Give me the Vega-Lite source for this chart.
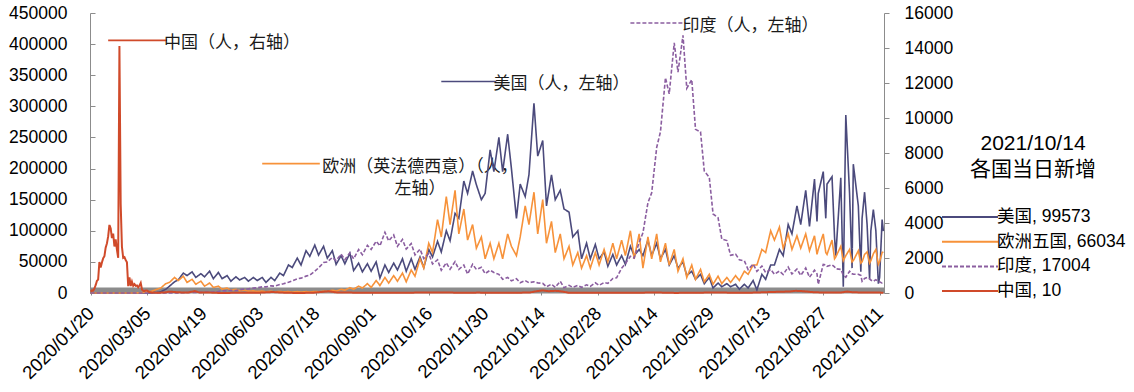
{
  "$schema": "https://vega.github.io/schema/vega-lite/v6.json",
  "width": 794,
  "height": 280,
  "autosize": {"type": "none"},
  "padding": {"left": 90, "top": 13, "right": 250, "bottom": 99},
  "background": "white",
  "config": {
    "view": {"stroke": null},
    "font": "Liberation Sans, Noto Sans CJK SC",
    "axis": {"grid": false, "labelColor": "#000", "domainColor": "#8c8c8c", "tickColor": "#8c8c8c", "labelFont": "Liberation Sans", "labelFontSize": 17.5, "title": null},
    "legend": {
      "orient": "none", "legendX": 851, "legendY": 120,
      "titleFontSize": 21, "titleFontWeight": "normal", "titleColor": "#000", "titleFont": "Liberation Sans, Noto Sans CJK SC",
      "titleAnchor": "middle", "titleAlign": "center", "titleLineHeight": 26, "titlePadding": 27, "titleLimit": 400,
      "labelFontSize": 17.5, "labelColor": "#000", "labelFont": "Liberation Sans, Noto Sans CJK SC", "labelLimit": 400,
      "symbolType": "stroke", "symbolSize": 3136, "symbolStrokeWidth": 2, "labelOffset": -2,
      "clipHeight": 20, "rowPadding": 4.7
    }
  },
  "datasets": {
    "wk": [
      {"d":"2020-01-20","美国":0,"欧洲五国":0,"印度":0},
      {"d":"2020-01-24","美国":1,"欧洲五国":0,"印度":0},
      {"d":"2020-01-27","美国":0,"欧洲五国":0,"印度":0},
      {"d":"2020-01-31","美国":1,"欧洲五国":3,"印度":1},
      {"d":"2020-02-03","美国":3,"欧洲五国":2,"印度":1},
      {"d":"2020-02-07","美国":0,"欧洲五国":2,"印度":0},
      {"d":"2020-02-10","美国":0,"欧洲五国":1,"印度":0},
      {"d":"2020-02-14","美国":1,"欧洲五国":2,"印度":0},
      {"d":"2020-02-17","美国":0,"欧洲五国":0,"印度":0},
      {"d":"2020-02-21","美国":1,"欧洲五国":20,"印度":0},
      {"d":"2020-02-24","美国":0,"欧洲五国":100,"印度":0},
      {"d":"2020-02-28","美国":1,"欧洲五国":300,"印度":0},
      {"d":"2020-03-02","美国":20,"欧洲五国":700,"印度":1},
      {"d":"2020-03-06","美国":60,"欧洲五国":1800,"印度":2},
      {"d":"2020-03-09","美国":300,"欧洲五国":3000,"印度":20},
      {"d":"2020-03-13","美国":900,"欧洲五国":6000,"印度":15},
      {"d":"2020-03-16","美国":1800,"欧洲五国":8000,"印度":15},
      {"d":"2020-03-20","美国":6000,"欧洲五国":15000,"印度":50},
      {"d":"2020-03-23","美国":11000,"欧洲五国":17000,"印度":100},
      {"d":"2020-03-27","美国":18000,"欧洲五国":25000,"印度":150},
      {"d":"2020-03-30","美国":21000,"欧洲五国":20000,"印度":200},
      {"d":"2020-04-03","美国":32000,"欧洲五国":27000,"印度":500},
      {"d":"2020-04-06","美国":28000,"欧洲五国":17000,"印度":700},
      {"d":"2020-04-10","美国":34000,"欧洲五国":22000,"印度":900},
      {"d":"2020-04-13","美国":25000,"欧洲五国":14000,"印度":1100},
      {"d":"2020-04-17","美国":31000,"欧洲五国":19000,"印度":1000},
      {"d":"2020-04-20","美国":26000,"欧洲五国":11000,"印度":1500},
      {"d":"2020-04-24","美国":35000,"欧洲五国":16000,"印度":1700},
      {"d":"2020-04-27","美国":23000,"欧洲五国":9000,"印度":1600},
      {"d":"2020-05-01","美国":33000,"欧洲五国":11000,"印度":2300},
      {"d":"2020-05-04","美国":23000,"欧洲五国":6000,"印度":3600},
      {"d":"2020-05-08","美国":28000,"欧洲五国":8000,"印度":3300},
      {"d":"2020-05-11","美国":19000,"欧洲五国":4500,"印度":4200},
      {"d":"2020-05-15","美国":26000,"欧洲五国":6000,"印度":3900},
      {"d":"2020-05-18","美国":21000,"欧洲五国":3500,"印度":5200},
      {"d":"2020-05-22","美国":25000,"欧洲五国":4500,"印度":6500},
      {"d":"2020-05-25","美国":19000,"欧洲五国":3000,"印度":6600},
      {"d":"2020-05-29","美国":25000,"欧洲五国":3500,"印度":7900},
      {"d":"2020-06-01","美国":20000,"欧洲五国":2500,"印度":8400},
      {"d":"2020-06-05","美国":25000,"欧洲五国":3000,"印度":9800},
      {"d":"2020-06-08","美国":17000,"欧洲五国":2000,"印度":9900},
      {"d":"2020-06-12","美国":25000,"欧洲五国":2800,"印度":11500},
      {"d":"2020-06-15","美国":20000,"欧洲五国":1800,"印度":11000},
      {"d":"2020-06-19","美国":32000,"欧洲五国":2500,"印度":13600},
      {"d":"2020-06-22","美国":28000,"欧洲五国":1800,"印度":14800},
      {"d":"2020-06-26","美国":45000,"欧洲五国":2300,"印度":17300},
      {"d":"2020-06-29","美国":41000,"欧洲五国":1500,"印度":19500},
      {"d":"2020-07-03","美国":56000,"欧洲五国":2200,"印度":22700},
      {"d":"2020-07-06","美国":45000,"欧洲五国":1500,"印度":23900},
      {"d":"2020-07-10","美国":68000,"欧洲五国":2200,"印度":27100},
      {"d":"2020-07-13","美国":59000,"欧洲五国":1600,"印度":28600},
      {"d":"2020-07-17","美国":77000,"欧洲五国":2500,"印度":34900},
      {"d":"2020-07-20","美国":61000,"欧洲五国":2000,"印度":40400},
      {"d":"2020-07-24","美国":75000,"欧洲五国":3000,"印度":48900},
      {"d":"2020-07-27","美国":56000,"欧洲五国":2500,"印度":49900},
      {"d":"2020-07-31","美国":68000,"欧洲五国":4500,"印度":57100},
      {"d":"2020-08-03","美国":46000,"欧洲五国":3000,"印度":52000},
      {"d":"2020-08-07","美国":60000,"欧洲五国":6000,"印度":62500},
      {"d":"2020-08-10","美国":47000,"欧洲五国":4500,"印度":53600},
      {"d":"2020-08-14","美国":64000,"欧洲五国":8500,"印度":64500},
      {"d":"2020-08-17","美国":36000,"欧洲五国":6000,"印度":55000},
      {"d":"2020-08-21","美国":48000,"欧洲五国":11000,"印度":69900},
      {"d":"2020-08-24","美国":34000,"欧洲五国":8000,"印度":61400},
      {"d":"2020-08-28","美国":47000,"欧洲五国":15000,"印度":76500},
      {"d":"2020-08-31","美国":35000,"欧洲五国":9000,"印度":69900},
      {"d":"2020-09-04","美国":50000,"欧洲五国":20000,"印度":83300},
      {"d":"2020-09-07","美国":24000,"欧洲五国":12000,"印度":75800},
      {"d":"2020-09-11","美国":45000,"欧洲五国":25000,"印度":97600},
      {"d":"2020-09-14","美国":33000,"欧洲五国":16000,"印度":83800},
      {"d":"2020-09-18","美国":48000,"欧洲五国":28000,"印度":93300},
      {"d":"2020-09-21","美国":37000,"欧洲五国":19000,"印度":75000},
      {"d":"2020-09-25","美国":55000,"欧洲五国":32000,"印度":86000},
      {"d":"2020-09-28","美国":35000,"欧洲五国":18000,"印度":70600},
      {"d":"2020-10-02","美国":55000,"欧洲五国":37000,"印度":79500},
      {"d":"2020-10-05","美国":38000,"欧洲五国":27000,"印度":61300},
      {"d":"2020-10-09","美国":58000,"欧洲五国":55000,"印度":70500},
      {"d":"2020-10-12","美国":41000,"欧洲五国":40000,"印度":55300},
      {"d":"2020-10-16","美国":70000,"欧洲五国":80000,"印度":63400},
      {"d":"2020-10-19","美国":58000,"欧洲五国":65000,"印度":46800},
      {"d":"2020-10-23","美国":83000,"欧洲五国":118000,"印度":53400},
      {"d":"2020-10-26","美国":66000,"欧洲五国":90000,"印度":36500},
      {"d":"2020-10-30","美国":100000,"欧洲五国":155000,"印度":48600},
      {"d":"2020-11-02","美国":84000,"欧洲五国":110000,"印度":38300},
      {"d":"2020-11-06","美国":128000,"欧洲五国":165000,"印度":50400},
      {"d":"2020-11-09","美国":120000,"欧洲五国":95000,"印度":38000},
      {"d":"2020-11-13","美国":180000,"欧洲五国":135000,"印度":44900},
      {"d":"2020-11-16","美国":160000,"欧洲五国":85000,"印度":30500},
      {"d":"2020-11-20","美国":196000,"欧洲五国":110000,"印度":46200},
      {"d":"2020-11-23","美国":174000,"欧洲五国":72000,"印度":37900},
      {"d":"2020-11-27","美国":150000,"欧洲五国":90000,"印度":41300},
      {"d":"2020-11-30","美国":160000,"欧洲五国":55000,"印度":31100},
      {"d":"2020-12-04","美国":230000,"欧洲五国":80000,"印度":36600},
      {"d":"2020-12-07","美国":195000,"欧洲五国":55000,"印度":32900},
      {"d":"2020-12-11","美国":250000,"欧洲五国":80000,"印度":30000},
      {"d":"2020-12-14","美国":195000,"欧洲五国":55000,"印度":22000},
      {"d":"2020-12-18","美国":255000,"欧洲五国":95000,"印度":25100},
      {"d":"2020-12-21","美国":200000,"欧洲五国":75000,"印度":19500},
      {"d":"2020-12-25","美国":120000,"欧洲五国":60000,"印度":23000},
      {"d":"2020-12-28","美国":175000,"欧洲五国":90000,"印度":16400},
      {"d":"2021-01-01","美国":155000,"欧洲五国":140000,"印度":20000},
      {"d":"2021-01-04","美国":190000,"欧洲五国":110000,"印度":16500},
      {"d":"2021-01-08","美国":305000,"欧洲五国":162000,"印度":18100},
      {"d":"2021-01-11","美国":220000,"欧洲五国":95000,"印度":16300},
      {"d":"2021-01-15","美国":245000,"欧洲五国":150000,"印度":15600},
      {"d":"2021-01-18","美国":140000,"欧洲五国":80000,"印度":10000},
      {"d":"2021-01-22","美国":190000,"欧洲五国":115000,"印度":14200},
      {"d":"2021-01-25","美国":150000,"欧洲五国":65000,"印度":9100},
      {"d":"2021-01-29","美国":165000,"欧洲五国":95000,"印度":18800},
      {"d":"2021-02-01","美国":135000,"欧洲五国":55000,"印度":8600},
      {"d":"2021-02-05","美国":130000,"欧洲五国":75000,"印度":12400},
      {"d":"2021-02-08","美国":90000,"欧洲五国":45000,"印度":9100},
      {"d":"2021-02-12","美国":100000,"欧洲五国":65000,"印度":12100},
      {"d":"2021-02-15","美国":55000,"欧洲五国":40000,"印度":9100},
      {"d":"2021-02-19","美国":80000,"欧洲五国":60000,"印度":13100},
      {"d":"2021-02-22","美国":55000,"欧洲五国":40000,"印度":10600},
      {"d":"2021-02-26","美国":78000,"欧洲五国":65000,"印度":16400},
      {"d":"2021-03-01","美国":55000,"欧洲五国":45000,"印度":12300},
      {"d":"2021-03-05","美国":66000,"欧洲五国":70000,"印度":16800},
      {"d":"2021-03-08","美国":43000,"欧洲五国":50000,"印度":15400},
      {"d":"2021-03-12","美国":62000,"欧洲五国":80000,"印度":23300},
      {"d":"2021-03-15","美国":45000,"欧洲五国":55000,"印度":24500},
      {"d":"2021-03-19","美国":60000,"欧洲五国":85000,"印度":39700},
      {"d":"2021-03-22","美国":46000,"欧洲五国":60000,"印度":47000},
      {"d":"2021-03-26","美国":75000,"欧洲五国":100000,"印度":59100},
      {"d":"2021-03-29","美国":60000,"欧洲五国":55000,"印度":56200},
      {"d":"2021-04-02","美国":70000,"欧洲五国":95000,"印度":81400},
      {"d":"2021-04-05","美国":60000,"欧洲五国":40000,"印度":96600},
      {"d":"2021-04-09","美国":85000,"欧洲五国":90000,"印度":145000},
      {"d":"2021-04-12","美国":60000,"欧洲五国":55000,"印度":161000},
      {"d":"2021-04-16","美国":80000,"欧洲五国":95000,"印度":234000},
      {"d":"2021-04-19","美国":55000,"欧洲五国":50000,"印度":259000},
      {"d":"2021-04-23","美国":70000,"欧洲五国":80000,"印度":346000},
      {"d":"2021-04-26","美国":45000,"欧洲五国":45000,"印度":320000},
      {"d":"2021-04-30","美国":60000,"欧洲五国":70000,"印度":402000},
      {"d":"2021-05-03","美国":40000,"欧洲五国":35000,"印度":355000},
      {"d":"2021-05-07","美国":50000,"欧洲五国":55000,"印度":414000},
      {"d":"2021-05-10","美国":28000,"欧洲五国":25000,"印度":329000},
      {"d":"2021-05-14","美国":35000,"欧洲五国":45000,"印度":343000},
      {"d":"2021-05-17","美国":22000,"欧洲五国":22000,"印度":263000},
      {"d":"2021-05-21","美国":30000,"欧洲五国":38000,"印度":259000},
      {"d":"2021-05-24","美国":15000,"欧洲五国":18000,"印度":196000},
      {"d":"2021-05-28","美国":25000,"欧洲五国":30000,"印度":186000},
      {"d":"2021-05-31","美国":8000,"欧洲五国":14000,"印度":127000},
      {"d":"2021-06-04","美国":16000,"欧洲五国":27000,"印度":121000},
      {"d":"2021-06-07","美国":10000,"欧洲五国":15000,"印度":86500},
      {"d":"2021-06-11","美国":15000,"欧洲五国":25000,"印度":84300},
      {"d":"2021-06-14","美国":10000,"欧洲五国":17000,"印度":60500},
      {"d":"2021-06-18","美国":14000,"欧洲五国":28000,"印度":62500},
      {"d":"2021-06-21","美国":6000,"欧洲五国":20000,"印度":53300},
      {"d":"2021-06-25","美国":14000,"欧洲五国":35000,"印度":51700},
      {"d":"2021-06-28","美国":8000,"欧洲五国":30000,"印度":37600},
      {"d":"2021-07-02","美国":20000,"欧洲五国":45000,"印度":46600},
      {"d":"2021-07-05","美国":5000,"欧洲五国":45000,"印度":34700},
      {"d":"2021-07-09","美国":30000,"欧洲五国":70000,"印度":43400},
      {"d":"2021-07-12","美国":22000,"欧洲五国":65000,"印度":32900},
      {"d":"2021-07-16","美国":45000,"欧洲五国":100000,"印度":38000},
      {"d":"2021-07-19","美国":45000,"欧洲五国":85000,"印度":30100},
      {"d":"2021-07-23","美国":70000,"欧洲五国":106000,"印度":35300},
      {"d":"2021-07-26","美国":60000,"欧洲五国":72000,"印度":29700},
      {"d":"2021-07-30","美国":110000,"欧洲五国":95000,"印度":41600},
      {"d":"2021-08-02","美国":95000,"欧洲五国":70000,"印度":30500},
      {"d":"2021-08-06","美国":140000,"欧洲五国":92000,"印度":38600},
      {"d":"2021-08-09","美国":110000,"欧洲五国":72000,"印度":28200},
      {"d":"2021-08-13","美国":165000,"欧洲五国":95000,"印度":40100},
      {"d":"2021-08-16","美国":107000,"欧洲五国":68000,"印度":25200},
      {"d":"2021-08-20","美国":183000,"欧洲五国":92000,"印度":36600},
      {"d":"2021-08-22","美国":115000,"欧洲五国":62000,"印度":30900},
      {"d":"2021-08-23","美国":160000,"欧洲五国":70000,"印度":14000},
      {"d":"2021-08-27","美国":195000,"欧洲五国":95000,"印度":46000},
      {"d":"2021-08-29","美国":120000,"欧洲五国":65000,"印度":45000},
      {"d":"2021-08-30","美国":175000,"欧洲五国":62000,"印度":42900},
      {"d":"2021-09-03","美国":187000,"欧洲五国":85000,"印度":45400},
      {"d":"2021-09-05","美国":90000,"欧洲五国":55000,"印度":42000},
      {"d":"2021-09-06","美国":60000,"欧洲五国":58000,"印度":38900},
      {"d":"2021-09-10","美国":185000,"欧洲五国":75000,"印度":38000},
      {"d":"2021-09-12","美国":10000,"欧洲五国":52000,"印度":28600},
      {"d":"2021-09-14","美国":286000,"欧洲五国":60000,"印度":25400},
      {"d":"2021-09-17","美国":160000,"欧洲五国":70000,"印度":35000},
      {"d":"2021-09-19","美国":40000,"欧洲五国":50000,"印度":30800},
      {"d":"2021-09-20","美国":207000,"欧洲五国":52000,"印度":30300},
      {"d":"2021-09-24","美国":140000,"欧洲五国":68000,"印度":30000},
      {"d":"2021-09-26","美国":34000,"欧洲五国":48000,"印度":28300},
      {"d":"2021-09-27","美国":120000,"欧洲五国":50000,"印度":18800},
      {"d":"2021-09-29","美国":162000,"欧洲五国":62000,"印度":23500},
      {"d":"2021-10-01","美国":110000,"欧洲五国":66000,"印度":25000},
      {"d":"2021-10-03","美国":22000,"欧洲五国":48000,"印度":22800},
      {"d":"2021-10-04","美国":100000,"欧洲五国":52000,"印度":20800},
      {"d":"2021-10-06","美国":134000,"欧洲五国":63000,"印度":18800},
      {"d":"2021-10-08","美国":100000,"欧洲五国":70000,"印度":21500},
      {"d":"2021-10-10","美国":15000,"欧洲五国":46000,"印度":18200},
      {"d":"2021-10-11","美国":25000,"欧洲五国":50000,"印度":18100},
      {"d":"2021-10-13","美国":118000,"欧洲五国":65000,"印度":15800},
      {"d":"2021-10-14","美国":99573,"欧洲五国":66034,"印度":17004}
    ],
    "cn": [
      {"d":"2020-01-20","中国":77},{"d":"2020-01-21","中国":149},{"d":"2020-01-22","中国":131},{"d":"2020-01-23","中国":259},
      {"d":"2020-01-24","中国":444},{"d":"2020-01-25","中国":688},{"d":"2020-01-26","中国":769},{"d":"2020-01-27","中国":1771},
      {"d":"2020-01-28","中国":1459},{"d":"2020-01-29","中国":1737},{"d":"2020-01-30","中国":1982},{"d":"2020-01-31","中国":2102},
      {"d":"2020-02-01","中国":2590},{"d":"2020-02-02","中国":2829},{"d":"2020-02-03","中国":3235},{"d":"2020-02-04","中国":3887},
      {"d":"2020-02-05","中国":3694},{"d":"2020-02-06","中国":3143},{"d":"2020-02-07","中国":3399},{"d":"2020-02-08","中国":2656},
      {"d":"2020-02-09","中国":3062},{"d":"2020-02-10","中国":2478},{"d":"2020-02-11","中国":2015},{"d":"2020-02-12","中国":14108},
      {"d":"2020-02-13","中国":5090},{"d":"2020-02-14","中国":2641},{"d":"2020-02-15","中国":2009},{"d":"2020-02-16","中国":2048},
      {"d":"2020-02-17","中国":1886},{"d":"2020-02-18","中国":1749},{"d":"2020-02-19","中国":394},{"d":"2020-02-20","中国":889},
      {"d":"2020-02-21","中国":397},{"d":"2020-02-22","中国":648},{"d":"2020-02-23","中国":409},{"d":"2020-02-24","中国":508},
      {"d":"2020-02-25","中国":406},{"d":"2020-02-26","中国":433},{"d":"2020-02-27","中国":327},{"d":"2020-02-28","中国":427},
      {"d":"2020-02-29","中国":573},{"d":"2020-03-01","中国":202},{"d":"2020-03-02","中国":125},{"d":"2020-03-03","中国":119},
      {"d":"2020-03-04","中国":139},{"d":"2020-03-05","中国":143},{"d":"2020-03-06","中国":99},{"d":"2020-03-07","中国":44},
      {"d":"2020-03-08","中国":40},{"d":"2020-03-09","中国":19},{"d":"2020-03-10","中国":24},{"d":"2020-03-15","中国":16},
      {"d":"2020-03-20","中国":41},{"d":"2020-03-23","中国":78},{"d":"2020-03-27","中国":54},{"d":"2020-04-01","中国":35},
      {"d":"2020-04-07","中国":32},{"d":"2020-04-12","中国":108},{"d":"2020-04-16","中国":26},{"d":"2020-04-22","中国":30},
      {"d":"2020-05-01","中国":5},{"d":"2020-05-15","中国":8},{"d":"2020-06-01","中国":10},{"d":"2020-06-13","中国":57},
      {"d":"2020-06-20","中国":25},{"d":"2020-07-01","中国":3},{"d":"2020-07-15","中国":10},{"d":"2020-07-28","中国":101},
      {"d":"2020-08-03","中国":36},{"d":"2020-08-15","中国":22},{"d":"2020-09-01","中国":10},{"d":"2020-09-15","中国":10},
      {"d":"2020-10-01","中国":20},{"d":"2020-10-26","中国":30},{"d":"2020-11-10","中国":17},{"d":"2020-11-25","中国":22},
      {"d":"2020-12-10","中国":15},{"d":"2020-12-25","中国":13},{"d":"2021-01-05","中国":32},{"d":"2021-01-10","中国":103},
      {"d":"2021-01-15","中国":144},{"d":"2021-01-20","中国":103},{"d":"2021-01-25","中国":124},{"d":"2021-01-30","中国":92},
      {"d":"2021-02-05","中国":10},{"d":"2021-02-20","中国":8},{"d":"2021-03-10","中国":10},{"d":"2021-04-05","中国":20},
      {"d":"2021-04-15","中国":30},{"d":"2021-05-01","中国":5},{"d":"2021-05-20","中国":20},{"d":"2021-06-01","中国":25},
      {"d":"2021-06-15","中国":20},{"d":"2021-07-01","中国":20},{"d":"2021-07-25","中国":75},{"d":"2021-07-31","中国":85},
      {"d":"2021-08-05","中国":124},{"d":"2021-08-10","中国":108},{"d":"2021-08-20","中国":40},{"d":"2021-08-31","中国":25},
      {"d":"2021-09-10","中国":30},{"d":"2021-09-15","中国":80},{"d":"2021-09-20","中国":40},{"d":"2021-10-01","中国":25},
      {"d":"2021-10-10","中国":30},{"d":"2021-10-14","中国":10}
    ],
    "notes": [
      {"s":"中国","a":"2020-02-03","b":"2020-03-21","v":406000,"t":"中国（人，右轴）"},
      {"s":"欧洲五国","a":"2020-06-05","b":"2020-07-21","v":208000},
      {"s":"美国","a":"2020-10-26","b":"2020-12-09","v":340000,"t":"美国（人，左轴）"},
      {"s":"印度","a":"2021-03-26","b":"2021-05-09","v":434000,"t":"印度（人，左轴）"}
    ]
  },
  "encoding": {
    "x": {
      "field": "d", "type": "temporal",
      "scale": {"type": "utc", "domain": [{"year":2020,"month":1,"date":19,"hours":12,"utc":true},{"year":2021,"month":10,"date":14,"hours":12,"utc":true}]},
      "axis": {
        "title": null,
        "values": [
          {"year":2020,"month":1,"date":20,"utc":true},{"year":2020,"month":3,"date":5,"utc":true},
          {"year":2020,"month":4,"date":19,"utc":true},{"year":2020,"month":6,"date":3,"utc":true},
          {"year":2020,"month":7,"date":18,"utc":true},{"year":2020,"month":9,"date":1,"utc":true},
          {"year":2020,"month":10,"date":16,"utc":true},{"year":2020,"month":11,"date":30,"utc":true},
          {"year":2021,"month":1,"date":14,"utc":true},{"year":2021,"month":2,"date":28,"utc":true},
          {"year":2021,"month":4,"date":14,"utc":true},{"year":2021,"month":5,"date":29,"utc":true},
          {"year":2021,"month":7,"date":13,"utc":true},{"year":2021,"month":8,"date":27,"utc":true},
          {"year":2021,"month":10,"date":11,"utc":true}
        ],
        "format": "%Y/%m/%d", "labelAngle": -45, "labelAlign": "right", "labelBaseline": "middle",
        "labelFontSize": 18.5, "labelOverlap": false, "labelFlush": false, "labelBound": false,
        "tickSize": 5, "labelPadding": 15, "domainWidth": 6, "offset": -3
      }
    }
  },
  "layer": [
    {
      "encoding": {
        "y": {
          "field": "v", "type": "quantitative",
          "scale": {"domain": [0, 450000]},
          "axis": {"orient": "left", "values": [0,50000,100000,150000,200000,250000,300000,350000,400000,450000], "format": "d", "tickSize": -5, "labelPadding": 28}
        }
      },
      "layer": [
        {
          "data": {"name": "notes"},
          "mark": {"type": "rule", "strokeWidth": 1.6},
          "encoding": {
            "x": {"field": "a", "type": "temporal", "scale": {"type": "utc", "domain": [{"year":2020,"month":1,"date":19,"hours":12,"utc":true},{"year":2021,"month":10,"date":14,"hours":12,"utc":true}]}},
            "x2": {"field": "b"},
            "color": {"field": "s", "type": "nominal", "scale": {"domain": ["美国","欧洲五国","印度","中国"], "range": ["#4b4a7c","#f7923a","#8b5ea0","#d04a2a"]}},
            "strokeDash": {"field": "s", "type": "nominal", "scale": {"domain": ["美国","欧洲五国","印度","中国"], "range": [[1,0],[1,0],[4,2],[1,0]]}}
          }
        },
        {
          "data": {"name": "notes"},
          "transform": [{"filter": "isValid(datum.t)"}],
          "mark": {"type": "text", "align": "left", "baseline": "middle", "dx": -3, "dy": 3, "font": "Noto Sans CJK SC", "fontSize": 17, "color": "#1a1a1a"},
          "encoding": {
            "x": {"field": "b", "type": "temporal", "scale": {"type": "utc", "domain": [{"year":2020,"month":1,"date":19,"hours":12,"utc":true},{"year":2021,"month":10,"date":14,"hours":12,"utc":true}]}},
            "text": {"field": "t"}
          }
        },
        {
          "data": {"values": [{"d": "2020-10-09", "v": 203000, "t": ["欧洲（英法德西意）（人，", "左轴）"]}]},
          "mark": {"type": "text", "align": "center", "baseline": "middle", "lineHeight": 22, "font": "Noto Sans CJK SC", "fontSize": 17, "color": "#1a1a1a"},
          "encoding": {"text": {"field": "t"}}
        },
        {
          "data": {"name": "wk"},
          "transform": [{"fold": ["美国", "欧洲五国", "印度"], "as": ["s", "v"]}],
          "mark": {"type": "line", "strokeWidth": 1.6},
          "encoding": {
            "color": {
              "field": "s", "type": "nominal",
              "scale": {"domain": ["美国","欧洲五国","印度","中国"], "range": ["#4b4a7c","#f7923a","#8b5ea0","#d04a2a"]},
              "legend": {"title": ["2021/10/14", "各国当日新增"], "labelExpr": "datum.label == '美国' ? '美国, 99573' : datum.label == '欧洲五国' ? '欧洲五国, 66034' : datum.label == '印度' ? '印度, 17004' : '中国, 10'"}
            },
            "strokeDash": {
              "field": "s", "type": "nominal",
              "scale": {"domain": ["美国","欧洲五国","印度","中国"], "range": [[1,0],[1,0],[4,2],[1,0]]},
              "legend": {"title": ["2021/10/14", "各国当日新增"], "labelExpr": "datum.label == '美国' ? '美国, 99573' : datum.label == '欧洲五国' ? '欧洲五国, 66034' : datum.label == '印度' ? '印度, 17004' : '中国, 10'"}
            }
          }
        }
      ]
    },
    {
      "data": {"name": "cn"},
      "transform": [{"fold": ["中国"], "as": ["s", "v"]}],
      "mark": {"type": "line", "strokeWidth": 2},
      "encoding": {
        "y": {
          "field": "v", "type": "quantitative",
          "scale": {"domain": [0, 16000]},
          "axis": {"orient": "right", "values": [0,2000,4000,6000,8000,10000,12000,14000,16000], "format": "d", "tickSize": 5, "labelPadding": 15}
        },
        "color": {"field": "s", "type": "nominal", "scale": {"domain": ["美国","欧洲五国","印度","中国"], "range": ["#4b4a7c","#f7923a","#8b5ea0","#d04a2a"]}},
        "strokeDash": {"field": "s", "type": "nominal", "scale": {"domain": ["美国","欧洲五国","印度","中国"], "range": [[1,0],[1,0],[4,2],[1,0]]}}
      }
    }
  ],
  "resolve": {"scale": {"y": "independent"}}
}
